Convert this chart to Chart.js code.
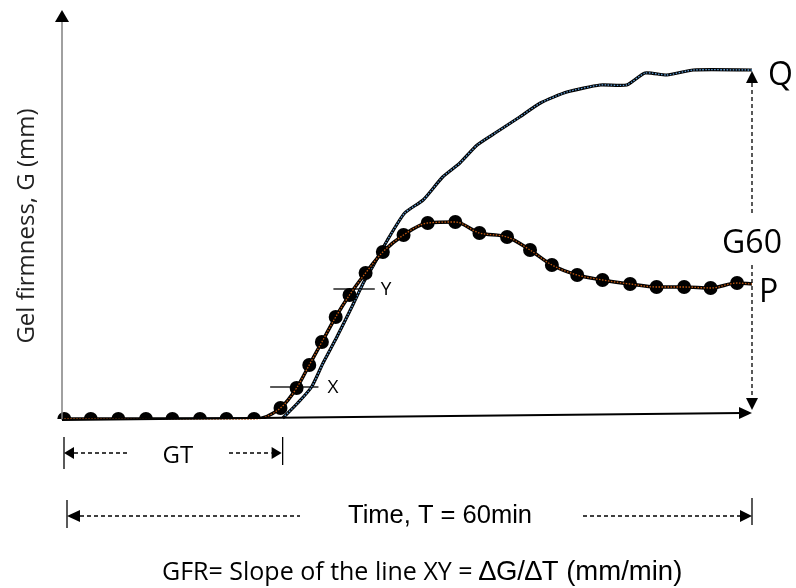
<!DOCTYPE html>
<html>
<head>
<meta charset="utf-8">
<script src="https://cdn.jsdelivr.net/npm/chart.js@4.4.1/dist/chart.umd.min.js"></script>
<style>
  html, body { margin: 0; padding: 0; background: #fff; }
  canvas { display: block; }
</style>
</head>
<body>
<canvas id="gelChart" width="796" height="588"></canvas>
<script>
// Gel firmness readings (time in min, firmness in mm)
var pTime = [0.2, 2.5, 4.9, 7.3, 9.6, 12.0, 14.3, 16.7, 19.0, 20.4, 21.5, 22.6, 23.8, 25.0, 26.4, 27.9,
             29.7, 31.8, 34.2, 36.3, 38.7, 40.7, 42.6, 44.8, 47.0, 49.4, 51.7, 54.1, 56.4, 58.7, 60];
var pFirmness = [0, 0, 0, 0, 0, 0, 0, 0, 1.1, 3.1, 5.4, 7.7, 10.2, 12.4, 14.6, 16.7,
                 18.4, 19.6, 19.7, 18.6, 18.2, 16.9, 15.4, 14.4, 13.9, 13.5, 13.2, 13.2, 13.1, 13.6, 13.5];

var qTime = [19.2, 20.5, 21.7, 22.7, 23.9, 25.2, 26.2, 27.0, 28.3, 29.8, 31.4, 33.1, 34.6, 36.1,
             37.8, 39.8, 41.6, 43.9, 46.8, 49.1, 50.7, 52.6, 54.9, 60];
var qFirmness = [0.1, 1.6, 3.2, 5.6, 8.2, 11.2, 13.6, 15.2, 17.9, 20.6, 21.9, 24.2, 25.6, 27.4,
                 28.7, 30.2, 31.6, 32.7, 33.4, 33.4, 34.6, 34.4, 34.9, 34.9];

// points X and Y used for the slope
var xTickTime = [18.1, 22.3];
var xTickFirmness = [3.2, 3.2];
var yTickTime = [23.6, 27.2];
var yTickFirmness = [13.0, 13.0];

var gelTime = 19.1;   // GT
var totalTime = 60;   // T

var FONT_A = '"Open Sans", sans-serif';
var FONT_B = '"Liberation Sans", Arial, sans-serif';

function toPoints(xs, ys) {
    return xs.map(function(x, i) { return { x: x, y: ys[i] }; });
}

function arrowHead(ctx, x, y, dir, len, half) {
    ctx.beginPath();
    ctx.moveTo(x, y);
    if (dir === 'left')  { ctx.lineTo(x + len, y - half); ctx.lineTo(x + len, y + half); }
    if (dir === 'right') { ctx.lineTo(x - len, y - half); ctx.lineTo(x - len, y + half); }
    if (dir === 'up')    { ctx.lineTo(x - half, y + len); ctx.lineTo(x + half, y + len); }
    if (dir === 'down')  { ctx.lineTo(x - half, y - len); ctx.lineTo(x + half, y - len); }
    ctx.closePath();
    ctx.fill();
}

function dashed(ctx, x1, y1, x2, y2) {
    ctx.save();
    ctx.setLineDash([4, 3]);
    ctx.lineWidth = 1.3;
    ctx.beginPath();
    ctx.moveTo(x1, y1);
    ctx.lineTo(x2, y2);
    ctx.stroke();
    ctx.restore();
}

function solid(ctx, x1, y1, x2, y2, w) {
    ctx.lineWidth = w;
    ctx.beginPath();
    ctx.moveTo(x1, y1);
    ctx.lineTo(x2, y2);
    ctx.stroke();
}

// axes, dimension arrows and the labels
var diagramPlugin = {
    id: 'diagram',
    afterDatasetsDraw: function(chart) {
        var ctx = chart.ctx;
        var xs = chart.scales.x, ys = chart.scales.y;
        var px = function(t) { return xs.getPixelForValue(t); };
        var py = function(g) { return ys.getPixelForValue(g); };
        var x0 = px(0), xEnd = px(totalTime);

        ctx.save();
        ctx.fillStyle = '#000';
        ctx.strokeStyle = '#000';

        // y axis
        ctx.strokeStyle = '#808080';
        solid(ctx, x0, py(-0.1), x0, py(40), 1.5);
        ctx.strokeStyle = '#000';
        arrowHead(ctx, x0, py(40.9), 'up', 12, 7);

        // x axis (slightly tilted in the sketch)
        solid(ctx, x0, py(-0.1), xEnd - 10, py(0.6), 2);
        arrowHead(ctx, xEnd, py(0.6), 'right', 13, 6);

        // G60 arrow
        var qTop = py(qFirmness[qFirmness.length - 1]) + 1;
        var qBottom = py(0.9);
        arrowHead(ctx, xEnd, qTop, 'up', 12, 6);
        arrowHead(ctx, xEnd, qBottom, 'down', 12, 6);
        dashed(ctx, xEnd, qTop + 12, xEnd, 213);
        dashed(ctx, xEnd, 265, xEnd, qBottom - 12);

        ctx.font = '32px ' + FONT_A;
        ctx.textBaseline = 'alphabetic';
        ctx.textAlign = 'center';
        ctx.fillText('G60', xEnd, 253);
        ctx.textAlign = 'left';
        ctx.fillText('Q', 768, 85);
        ctx.fillText('P', 759, 302);

        // X and Y labels
        ctx.font = '19px ' + FONT_A;
        ctx.textBaseline = 'middle';
        ctx.fillText('X', px(xTickTime[1]) + 9, py(xTickFirmness[0]) + 1);
        ctx.fillText('Y', px(yTickTime[1]) + 6, py(yTickFirmness[0]) + 1);

        // GT dimension
        var gtY = 453, gtEnd = px(gelTime);
        solid(ctx, x0 + 2, gtY - 16, x0 + 2, gtY + 16, 1.3);
        solid(ctx, gtEnd + 1, gtY - 16, gtEnd + 1, gtY + 12, 1.3);
        arrowHead(ctx, x0 + 2, gtY, 'left', 10, 6);
        arrowHead(ctx, gtEnd, gtY, 'right', 10, 6);
        dashed(ctx, x0 + 12, gtY, 128, gtY);
        dashed(ctx, 229, gtY, gtEnd - 10, gtY);
        ctx.font = '24px ' + FONT_A;
        ctx.textAlign = 'center';
        ctx.textBaseline = 'alphabetic';
        ctx.fillText('GT', (x0 + gtEnd) / 2 + 6, 463);

        // total time dimension
        var tY = 516;
        solid(ctx, x0 + 5, tY - 16, x0 + 5, tY + 12, 1.3);
        solid(ctx, xEnd, tY - 18, xEnd, tY + 9, 1.3);
        arrowHead(ctx, x0 + 5, tY, 'left', 13, 6);
        arrowHead(ctx, xEnd, tY, 'right', 12, 6);
        dashed(ctx, x0 + 18, tY, 300, tY);
        dashed(ctx, 583, tY, xEnd - 12, tY);
        ctx.font = '25.5px ' + FONT_B;
        ctx.fillText('Time, T = 60min', 440, 523);

        // slope formula
        var part1 = 'GFR= Slope of the line XY = ';
        var part2 = '\u2206G/\u2206T (mm/min)';
        ctx.textAlign = 'left';
        ctx.font = '25px ' + FONT_A;
        var w1 = ctx.measureText(part1).width;
        ctx.fillText(part1, 162, 580);
        ctx.font = '27.5px ' + FONT_B;
        ctx.fillText(part2, 162 + w1, 580);

        // y axis title
        ctx.save();
        ctx.translate(27, 226);
        ctx.rotate(-Math.PI / 2);
        ctx.font = '24px ' + FONT_A;
        ctx.textAlign = 'center';
        ctx.textBaseline = 'middle';
        ctx.fillStyle = '#222';
        ctx.fillText('Gel firmness, G (mm)', 0, 0);
        ctx.restore();

        ctx.restore();
    }
};

var lastP = pTime.length - 1;

new Chart(document.getElementById('gelChart'), {
    type: 'scatter',
    data: {
        datasets: [
            {   // orange dotted core of curve P
                data: toPoints(pTime, pFirmness),
                showLine: true,
                borderColor: '#c55a11',
                borderWidth: 1.3,
                borderDash: [1.5, 1.5],
                pointRadius: 0,
                cubicInterpolationMode: 'monotone',
                clip: false,
                order: 0
            },
            {   // curve P with markers
                data: toPoints(pTime, pFirmness),
                showLine: true,
                borderColor: '#000',
                borderWidth: 3.5,
                backgroundColor: '#000',
                pointBackgroundColor: '#000',
                pointBorderWidth: 0,
                pointRadius: function(c) { return c.dataIndex === lastP ? 0 : 7; },
                cubicInterpolationMode: 'monotone',
                clip: { left: 10, top: 10, right: 10, bottom: 0 },
                order: 1
            },
            {   // blue dotted core of curve Q
                data: toPoints(qTime, qFirmness),
                showLine: true,
                borderColor: '#5b9bd5',
                borderWidth: 1.3,
                borderDash: [1.5, 1.5],
                pointRadius: 0,
                tension: 0.2,
                clip: false,
                order: 2
            },
            {   // curve Q
                data: toPoints(qTime, qFirmness),
                showLine: true,
                borderColor: '#000',
                borderWidth: 3.2,
                pointRadius: 0,
                tension: 0.2,
                clip: false,
                order: 3
            },
            {   // X mark
                data: toPoints(xTickTime, xTickFirmness),
                showLine: true,
                borderColor: '#222',
                borderWidth: 1.3,
                pointRadius: 0,
                clip: false,
                order: 4
            },
            {   // Y mark
                data: toPoints(yTickTime, yTickFirmness),
                showLine: true,
                borderColor: '#222',
                borderWidth: 1.3,
                pointRadius: 0,
                clip: false,
                order: 5
            }
        ]
    },
    options: {
        responsive: false,
        animation: false,
        events: [],
        layout: { padding: { left: 62, right: 44, top: 19, bottom: 169 } },
        scales: {
            x: { type: 'linear', min: 0, max: totalTime, display: false },
            y: { type: 'linear', min: 0, max: 40, display: false }
        },
        plugins: {
            legend: { display: false },
            tooltip: { enabled: false }
        }
    },
    plugins: [diagramPlugin]
});
</script>
</body>
</html>
